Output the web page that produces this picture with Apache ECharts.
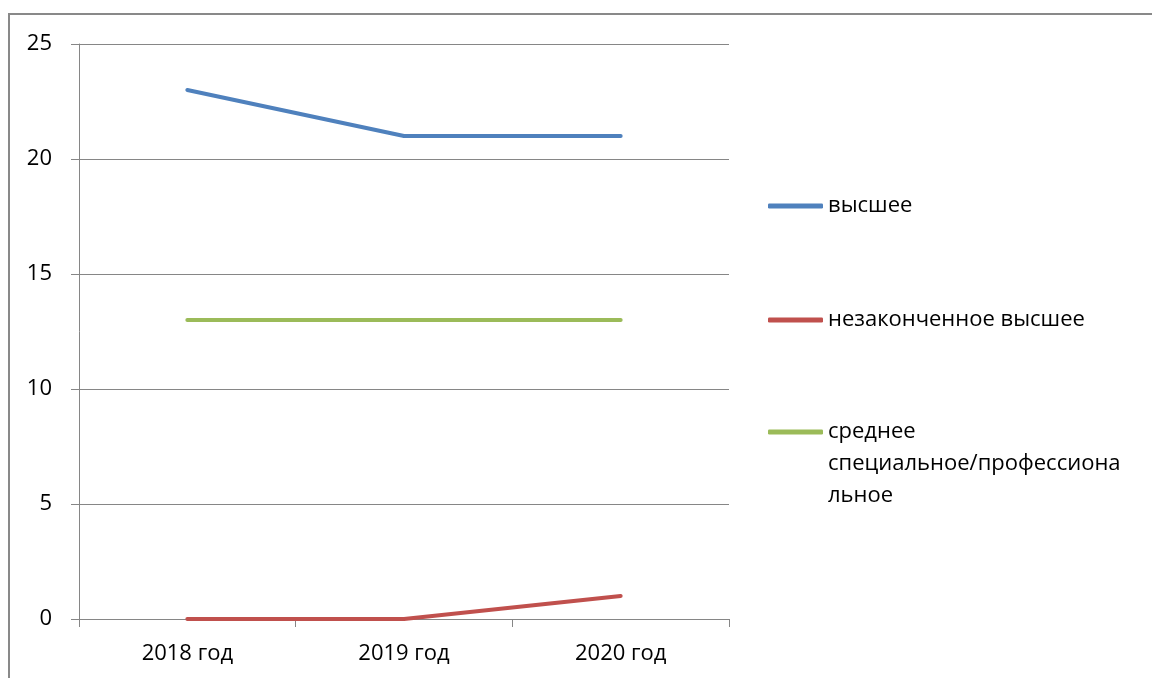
<!DOCTYPE html>
<html><head><meta charset="utf-8">
<script src="https://cdn.jsdelivr.net/npm/echarts@6/dist/echarts.min.js"></script>
<style>html,body{margin:0;padding:0;background:#fff}#c{width:1152px;height:678px}</style>
</head><body><div id="c"></div>
<script>
const categories = ['2018 год', '2019 год', '2020 год'];
const seriesNames = ['высшее', 'незаконченное высшее', 'среднее специальное/профессиональное'];
const vysshee = [23, 21, 21];
const nezakonchennoe = [0, 0, 1];
const srednee = [13, 13, 13];
const yTicks = [0, 5, 10, 15, 20, 25];

const colors = ['#4F81BD', '#C0504D', '#9BBB59'];
const FONT = 'Open Sans';
const FS = 22;
const chart = echarts.init(document.getElementById('c'));
const gray = '#868686';
const legendBase = {
  orient: 'vertical', left: 768, itemWidth: 55, itemHeight: 5, icon: 'roundRect',
  padding: 0, itemGap: 0, selectedMode: false,
  textStyle: { fontFamily: FONT, fontSize: FS, color: '#000', lineHeight: 32 }
};
chart.setOption({
  animation: false,
  color: colors,
  graphic: [{ type: 'rect', shape: { x: 9, y: 14, width: 1300, height: 900 },
    style: { fill: 'none', stroke: '#898989', lineWidth: 2 }, silent: true }],
  legend: [
    Object.assign({}, legendBase, { top: 206 - 16, data: [seriesNames[0]] }),
    Object.assign({}, legendBase, { top: 320 - 16, data: [seriesNames[1]] }),
    Object.assign({}, legendBase, { top: 432 - 80, data: [seriesNames[2]],
      formatter: () => '\n\nсреднее\nспециальное/профессиона\nльное' })
  ],
  grid: { left: 79, right: 423, top: 44, bottom: 59, containLabel: false },
  xAxis: {
    type: 'category', data: categories, boundaryGap: true,
    axisLine: { show: true, lineStyle: { color: gray, width: 1 } },
    axisTick: { show: true, length: 8, lineStyle: { color: gray } },
    axisLabel: { fontFamily: FONT, fontSize: FS, color: '#000', margin: 24 },
    splitLine: { show: false }
  },
  yAxis: {
    type: 'value', min: yTicks[0], max: yTicks[yTicks.length - 1], interval: 5,
    axisLine: { show: true, lineStyle: { color: gray, width: 1 } },
    axisTick: { show: true, length: 8, lineStyle: { color: gray } },
    axisLabel: { fontFamily: FONT, fontSize: FS, color: '#000', margin: 27 },
    splitLine: { show: true, lineStyle: { color: gray, width: 1 } }
  },
  series: [
    { name: seriesNames[0], type: 'line', data: vysshee, showSymbol: false, symbol: 'none',
      lineStyle: { width: 4, color: colors[0], cap: 'round' } },
    { name: seriesNames[1], type: 'line', data: nezakonchennoe, showSymbol: false, symbol: 'none',
      lineStyle: { width: 4, color: colors[1], cap: 'round' } },
    { name: seriesNames[2], type: 'line', data: srednee, showSymbol: false, symbol: 'none',
      lineStyle: { width: 4, color: colors[2], cap: 'round' } }
  ]
});
</script></body></html>
